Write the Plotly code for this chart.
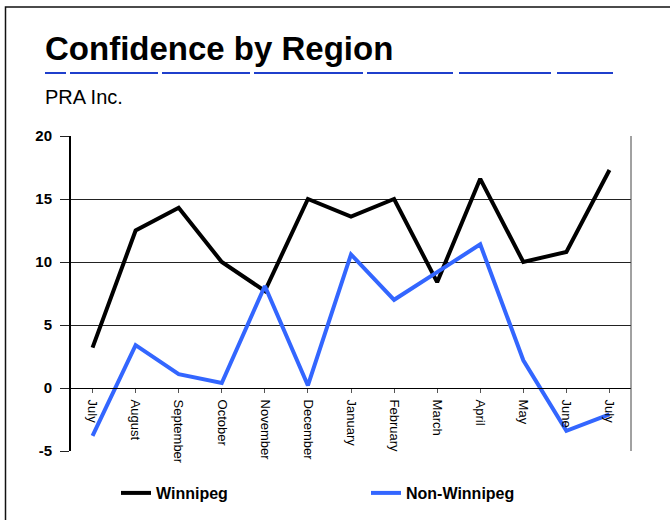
import plotly.graph_objects as go

# ---- data ----
months = ["July", "August", "September", "October", "November", "December",
          "January", "February", "March", "April", "May", "June", "July"]
winnipeg = [3.2, 12.5, 14.3, 10.0, 7.7, 15.0, 13.6, 15.0, 8.4, 16.6, 10.0, 10.8, 17.3]
non_winnipeg = [-3.8, 3.4, 1.1, 0.4, 8.1, 0.2, 10.6, 7.0, 9.2, 11.4, 2.2, -3.4, -2.1]
y_ticks = [-5, 0, 5, 10, 15, 20]
y_ticktext = ["-5", "0", "5", "10", "15", "20"]

W, H = 670, 520
L, R, T, B = 71, 39, 136, 69
PW, PH = W - L - R, H - T - B


def px(x):
    """window x pixel -> paper fraction"""
    return (x - L) / PW


def py(y):
    """window y pixel -> paper fraction"""
    return (H - B - y) / PH


idx = list(range(len(months)))

fig = go.Figure()
fig.add_trace(go.Scatter(x=idx, y=winnipeg, mode="lines", name="Winnipeg",
                         line=dict(color="#000000", width=4)))
fig.add_trace(go.Scatter(x=idx, y=non_winnipeg, mode="lines", name="Non-Winnipeg",
                         line=dict(color="#3366FF", width=4)))

FONT = "Liberation Sans, Arial, sans-serif"

fig.update_layout(
    width=W, height=H,
    margin=dict(l=L, r=R, t=T, b=B, pad=0, autoexpand=False),
    paper_bgcolor="white", plot_bgcolor="white",
    font=dict(family=FONT, color="#000"),
    showlegend=True,
    legend=dict(orientation="h", x=px(116), y=py(493), xanchor="left", yanchor="middle",
                entrywidth=205, entrywidthmode="pixels",
                font=dict(size=16, family=FONT, weight="bold", color="#000"),
                bgcolor="rgba(0,0,0,0)"),
    xaxis=dict(range=[-0.5, len(months) - 0.5], tickvals=idx, ticktext=months,
               anchor="free", position=5 / 25,
               showline=True, linecolor="#000", linewidth=1,
               ticks="outside", tickson="boundaries", ticklen=4, tickcolor="#555",
               tickangle=90, ticklabelstandoff=4,
               tickfont=dict(size=13, family=FONT, color="#000"),
               showgrid=False, zeroline=False),
    yaxis=dict(range=[-5, 20], tickvals=y_ticks, ticktext=y_ticktext,
               showline=True, linecolor="#000", linewidth=2,
               ticks="outside", ticklen=9, tickcolor="#222",
               showgrid=True, gridcolor="#222", gridwidth=1,
               zeroline=False, ticklabelstandoff=5,
               tickfont=dict(size=15, family=FONT, weight="bold", color="#000")),
    shapes=[
        # outer frame
        dict(type="rect", xref="paper", yref="paper", x0=px(5.5), x1=px(700),
             y0=py(560), y1=py(7), line=dict(color="#111", width=1.5), layer="below"),
        # plot area right border
        dict(type="line", xref="paper", yref="paper", x0=1, x1=1, y0=0, y1=1,
             line=dict(color="#444", width=1)),
        # title underline
        dict(type="line", xref="paper", yref="paper", x0=px(45), x1=px(613),
             y0=py(73), y1=py(73),
             line=dict(color="#1f3fcc", width=2,
                       dash="21px,4px,88px,4px,88px,4px,109px,4px,86px,6px,92px,6px,56px,40px")),
    ],
    annotations=[
        dict(text="<b>Confidence by Region</b>", xref="paper", yref="paper",
             x=px(43), y=py(48), xanchor="left", yanchor="middle", showarrow=False,
             font=dict(size=33, family=FONT, color="#000")),
        dict(text="PRA Inc.", xref="paper", yref="paper",
             x=px(43), y=py(96.5), xanchor="left", yanchor="middle", showarrow=False,
             font=dict(size=20, family=FONT, color="#000")),
    ],
)

# remove the default page margin so the figure fills the window from (0, 0)
fig.write_html("out.html", config={"displayModeBar": False},
               post_script="document.body.style.margin='0px';")
